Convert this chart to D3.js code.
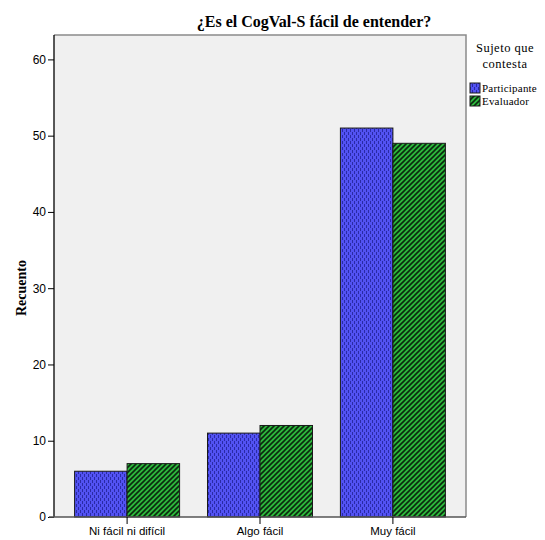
<!DOCTYPE html>
<html><head><meta charset="utf-8">
<script src="https://cdn.jsdelivr.net/npm/d3@7/dist/d3.min.js"></script>
<style>body{margin:0;background:#fff}svg{display:block}</style>
</head><body><svg id="c" width="545" height="540"></svg>
<script>
const categories = ["Ni fácil ni difícil", "Algo fácil", "Muy fácil"];
const seriesNames = ["Participante", "Evaluador"];
const participante = [6, 11, 51];
const evaluador = [7, 12, 49];
const yTicks = [0, 10, 20, 30, 40, 50, 60];
const title = "¿Es el CogVal-S fácil de entender?";
const yLabel = "Recuento";
const legendTitle = ["Sujeto que", "contesta"];

const svg = d3.select("#c");
const L = 54, R = 466, T = 35, B = 517;
const defs = svg.append("defs");
const pb = defs.append("pattern").attr("id","pBlue").attr("patternUnits","userSpaceOnUse").attr("width",4).attr("height",6);
pb.append("rect").attr("width",4).attr("height",6).attr("fill","#5252f2");
pb.append("rect").attr("x",0).attr("y",0).attr("width",1).attr("height",3).attr("fill","#2a2aa6");
pb.append("rect").attr("x",2).attr("y",3).attr("width",1).attr("height",3).attr("fill","#2a2aa6");
const pg = defs.append("pattern").attr("id","pGreen").attr("patternUnits","userSpaceOnUse").attr("width",5).attr("height",5);
pg.append("rect").attr("width",5).attr("height",5).attr("fill","#2cb83c");
pg.append("path").attr("d","M-1,6 L6,-1 M-1,1 L1,-1 M4,6 L6,4").attr("stroke","#0b2a0e").attr("stroke-width",1.6);
const fills = ["url(#pBlue)","url(#pGreen)"];

svg.append("rect").attr("x",L).attr("y",T).attr("width",R-L).attr("height",B-T).attr("fill","#f0f0f0");
svg.append("path").attr("d",`M${L},${T} H${R} V${B}`).attr("fill","none").attr("stroke","#8a8a8a").attr("stroke-width",1.5);

const x0 = d3.scaleBand().domain(categories).range([L,R]).paddingInner(0.21).paddingOuter(0.155);
const x1 = d3.scaleBand().domain(seriesNames).range([0,x0.bandwidth()]);
const y = d3.scaleLinear().domain([0,63.2]).range([B,T]);

const data = categories.map((c,i)=>({c, vals:[participante[i], evaluador[i]]}));
const g = svg.append("g");
data.forEach(d=>{
  d.vals.forEach((v,j)=>{
    g.append("rect").attr("x",x0(d.c)+x1(seriesNames[j])).attr("y",y(v))
      .attr("width",x1.bandwidth()).attr("height",B-y(v))
      .attr("fill",fills[j]).attr("stroke","#1a1a1a").attr("stroke-width",1);
  });
});

const ya = svg.append("g").attr("transform",`translate(${L},0)`)
  .call(d3.axisLeft(y).tickValues(yTicks).tickSize(6).tickPadding(2).tickFormat(d3.format("d")));
ya.select(".domain").attr("stroke","#000").attr("stroke-width",1.3).attr("d",`M0,${T}V${B}`);
ya.selectAll("text").attr("font-family","Liberation Sans, Arial, sans-serif").attr("font-size",12).attr("fill","#000");

const xa = svg.append("g").attr("transform",`translate(0,${B})`)
  .call(d3.axisBottom(x0).tickSize(7).tickPadding(3));
xa.select(".domain").attr("stroke","#555").attr("stroke-width",1.5).attr("d",`M${L-5},0H${R}`);
xa.selectAll("text").attr("font-family","Liberation Sans, Arial, sans-serif").attr("font-size",11.5).attr("fill","#000");

svg.append("text").attr("x",314).attr("y",27).attr("text-anchor","middle")
  .attr("font-family","Liberation Serif, Times New Roman, serif").attr("font-weight","bold").attr("font-size",16).text(title);
svg.append("text").attr("transform","translate(26,288) rotate(-90)").attr("text-anchor","middle")
  .attr("font-family","Liberation Serif, Times New Roman, serif").attr("font-weight","bold").attr("font-size",14).text(yLabel);

legendTitle.forEach((t,i)=>svg.append("text").attr("x",505).attr("y",52+i*16).attr("text-anchor","middle")
  .attr("font-family","Liberation Serif, Times New Roman, serif").attr("font-size",12.5).attr("letter-spacing",0.5).text(t));
seriesNames.forEach((s,i)=>{
  svg.append("rect").attr("x",470).attr("y",83+i*13).attr("width",10).attr("height",10)
    .attr("fill",fills[i]).attr("stroke","#1a1a1a").attr("stroke-width",1);
  svg.append("text").attr("x",482).attr("y",92+i*13)
    .attr("font-family","Liberation Serif, Times New Roman, serif").attr("font-size",11).attr("letter-spacing",0.2).text(s);
});
</script></body></html>
